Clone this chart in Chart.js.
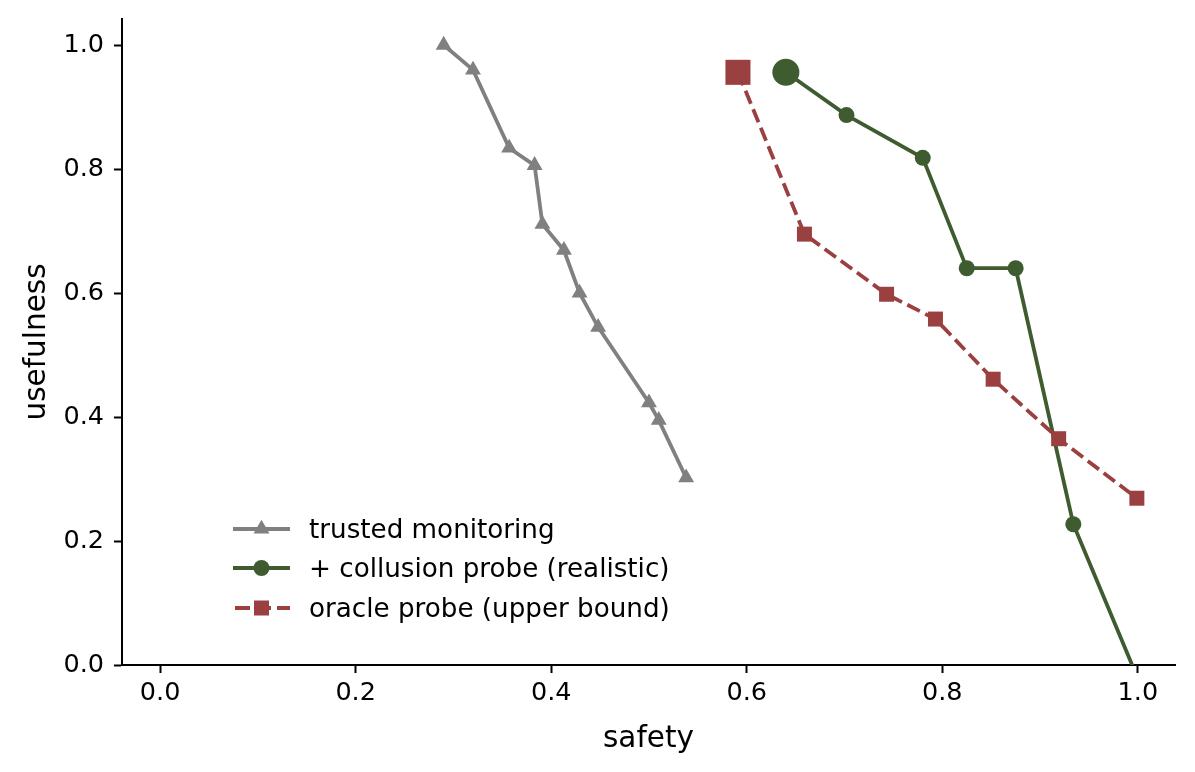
<!DOCTYPE html>
<html>
<head>
<meta charset="utf-8">
<script src="https://cdn.jsdelivr.net/npm/chart.js@4/dist/chart.umd.min.js"></script>
<style>
  html, body { margin: 0; padding: 0; background: #fff; }
  #wrap { position: relative; width: 1195px; height: 772px; }
  #legend { position: absolute; left: 233px; top: 509px; font-family: 'DejaVu Sans', sans-serif; font-size: 26.2px; color: #000; }
  .row { height: 39.5px; display: flex; align-items: center; }
  .row svg { width: 57px; height: 30px; margin-right: 19px; flex: none; }
</style>
</head>
<body>
<div id="wrap">
  <canvas id="c" width="1195" height="772"></canvas>
  <div id="legend"></div>
</div>
<script>
// data
const trustedSafety = [0.290, 0.320, 0.357, 0.383, 0.391, 0.413, 0.429, 0.448, 0.500, 0.510, 0.538];
const trustedUse    = [1.000, 0.960, 0.834, 0.806, 0.711, 0.669, 0.600, 0.545, 0.423, 0.395, 0.302];

const probeSafety = [0.640, 0.702, 0.780, 0.825, 0.875, 0.934, 1.000];
const probeUse    = [0.956, 0.887, 0.818, 0.640, 0.640, 0.227, -0.022];

const oracleSafety = [0.591, 0.659, 0.743, 0.793, 0.852, 0.919, 0.999];
const oracleUse    = [0.956, 0.695, 0.598, 0.558, 0.461, 0.365, 0.269];

const tickValues = [0, 0.2, 0.4, 0.6, 0.8, 1.0];
const labels = ['trusted monitoring', '+ collusion probe (realistic)', 'oracle probe (upper bound)'];

const GRAY = '#808080', GREEN = '#3e5c2f', RED = '#9b4040';

const pts = (xs, ys) => xs.map((x, i) => ({ x: x, y: ys[i] }));

const font = 'DejaVu Sans';
const fixTicks = scale => { scale.ticks = tickValues.map(v => ({ value: v })); };
// fixed axis boxes, no extra room for overhanging tick labels
const fitX = s => { s.height = 107; s.paddingLeft = 0; s.paddingRight = 0; };
const fitY = s => { s.width = 122; s.paddingTop = 0; s.paddingBottom = 0; };

new Chart(document.getElementById('c').getContext('2d'), {
  type: 'scatter',
  data: {
    datasets: [
      {
        label: labels[0],
        data: pts(trustedSafety, trustedUse),
        showLine: true,
        borderColor: GRAY,
        backgroundColor: GRAY,
        borderWidth: 3.8,
        pointStyle: 'triangle',
        pointRadius: 9.2,
        pointBorderWidth: 0,
        clip: 0,
        order: 2,
      },
      {
        label: labels[1],
        data: pts(probeSafety, probeUse),
        showLine: true,
        borderColor: GREEN,
        backgroundColor: GREEN,
        borderWidth: 3.8,
        pointStyle: 'circle',
        pointRadius: ctx => ctx.dataIndex === 0 ? 13.5 : 8,
        pointBorderWidth: 0,
        clip: 0,
        order: 1,
      },
      {
        label: labels[2],
        data: pts(oracleSafety, oracleUse),
        showLine: true,
        borderColor: RED,
        backgroundColor: RED,
        borderWidth: 3.8,
        borderDash: [14, 6],
        pointStyle: 'rect',
        pointRadius: ctx => ctx.dataIndex === 0 ? 17.7 : 10.6,
        pointBorderWidth: 0,
        clip: 0,
        order: 0,
      },
    ],
  },
  options: {
    responsive: false,
    devicePixelRatio: 1,
    animation: false,
    layout: { padding: { top: 19, right: 20, left: 0, bottom: 0 } },
    plugins: { legend: { display: false }, tooltip: { enabled: false } },
    scales: {
      x: {
        type: 'linear',
        min: -0.039, max: 1.038,
        afterBuildTicks: fixTicks,
        afterFit: fitX,
        border: { display: true, color: '#000', width: 2 },
        grid: { drawOnChartArea: false, drawTicks: true, tickLength: 8, tickWidth: 2, tickColor: '#000' },
        ticks: { color: '#000', font: { family: font, size: 25.5 }, padding: 5, maxRotation: 0,
                 callback: v => Number(v).toFixed(1) },
        title: { display: true, text: 'safety', color: '#000', font: { family: font, size: 29.5 },
                 padding: { top: 0, bottom: 15 } },
      },
      y: {
        type: 'linear',
        min: 0, max: 1.042,
        afterBuildTicks: fixTicks,
        afterFit: fitY,
        border: { display: true, color: '#000', width: 2 },
        grid: { drawOnChartArea: false, drawTicks: true, tickLength: 8, tickWidth: 2, tickColor: '#000' },
        ticks: { color: '#000', font: { family: font, size: 25.5 }, padding: 10,
                 callback: v => Number(v).toFixed(1) },
        title: { display: true, text: 'usefulness', color: '#000', font: { family: font, size: 29.5 },
                 padding: { top: 20, bottom: 0 } },
      },
    },
  },
});

// legend, placed inside the axes like the original
const handles = [
  `<line x1="0" y1="15" x2="57" y2="15" stroke="${GRAY}" stroke-width="3.8"/>
   <polygon points="28.5,5.8 36.5,19.6 20.5,19.6" fill="${GRAY}"/>`,
  `<line x1="0" y1="15" x2="57" y2="15" stroke="${GREEN}" stroke-width="3.8"/>
   <circle cx="28.5" cy="15" r="8" fill="${GREEN}"/>`,
  `<line x1="2" y1="15" x2="57" y2="15" stroke="${RED}" stroke-width="3.8" stroke-dasharray="15,6"/>
   <rect x="21" y="7.5" width="15" height="15" fill="${RED}"/>`,
];
document.getElementById('legend').innerHTML = labels.map((t, i) =>
  `<div class="row"><svg viewBox="0 0 57 30">${handles[i]}</svg><span>${t}</span></div>`).join('');
</script>
</body>
</html>
